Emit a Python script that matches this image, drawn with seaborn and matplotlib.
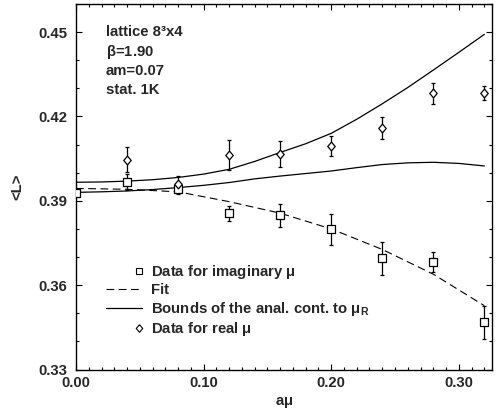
import numpy as np
import pandas as pd
import matplotlib
matplotlib.use("Agg")
import matplotlib.pyplot as plt
import seaborn as sns
from matplotlib.lines import Line2D
from matplotlib.legend_handler import HandlerLine2D
from matplotlib.ticker import MultipleLocator, FormatStrFormatter

# ---------------- data ----------------
mu_imag = [0.00, 0.04, 0.08, 0.12, 0.16, 0.20, 0.24, 0.28, 0.32]
L_imag = [0.3928, 0.3968, 0.3942, 0.3855, 0.3849, 0.3798, 0.3696, 0.3682, 0.3468]
err_imag = [0.0005, 0.0028, 0.0018, 0.0026, 0.0041, 0.0056, 0.0059, 0.0035, 0.0058]

mu_real = [0.04, 0.08, 0.12, 0.16, 0.20, 0.24, 0.28, 0.32]
L_real = [0.4046, 0.3961, 0.4063, 0.4065, 0.4094, 0.4159, 0.4282, 0.4284]
err_real = [0.0045, 0.0027, 0.0053, 0.0046, 0.0035, 0.0038, 0.0038, 0.0024]

mu_fit = [0.00, 0.04, 0.08, 0.12, 0.16, 0.20, 0.24, 0.28, 0.32]
L_fit = [0.3944, 0.3941, 0.3932, 0.3897, 0.3856, 0.3800, 0.3727, 0.3639, 0.3527]

mu_bound = [0.00, 0.02, 0.04, 0.06, 0.08, 0.10, 0.12, 0.14, 0.16, 0.18,
            0.20, 0.22, 0.24, 0.26, 0.28, 0.30, 0.32]
L_upper = [0.3966, 0.3967, 0.3970, 0.3975, 0.3983, 0.3995, 0.4012, 0.4040, 0.4072,
           0.4103, 0.4140, 0.4190, 0.4245, 0.4303, 0.4365, 0.4428, 0.4492]
L_lower = [0.3930, 0.3932, 0.3935, 0.3940, 0.3947, 0.3955, 0.3965, 0.3978, 0.3988,
           0.3997, 0.4006, 0.4018, 0.4029, 0.4035, 0.4037, 0.4033, 0.4024]

xticks = [0.00, 0.10, 0.20, 0.30]
yticks = [0.33, 0.36, 0.39, 0.42, 0.45]

info_lines = ["lattice 8\u00b3x4", r"$\beta$=1.90", "am=0.07", "stat. 1K"]
legend_labels = [r"Data for imaginary $\mu$", "Fit",
                 r"Bounds of the anal. cont. to $\mu_\mathrm{R}$", r"Data for real $\mu$"]

# ---------------- style ----------------
sns.set_theme(style="ticks")
plt.rcParams["font.family"] = ["Liberation Sans", "DejaVu Sans"]
plt.rcParams["font.weight"] = "bold"
plt.rcParams["mathtext.fontset"] = "custom"
plt.rcParams["mathtext.rm"] = "Liberation Sans"
plt.rcParams["mathtext.it"] = "Liberation Sans"
plt.rcParams["mathtext.bf"] = "Liberation Sans:bold"
FS = 10.7

fig = plt.figure(figsize=(4.98, 4.13), dpi=100)
ax = fig.add_axes([76 / 498, 1 - 369.5 / 413, 416 / 498, 365.5 / 413])

df_imag = pd.DataFrame({"mu": mu_imag, "L": L_imag})
df_real = pd.DataFrame({"mu": mu_real, "L": L_real})
df_fit = pd.DataFrame({"mu": mu_fit, "L": L_fit})
df_b = pd.DataFrame({"mu": mu_bound, "up": L_upper, "lo": L_lower})

# curves
sns.lineplot(data=df_b, x="mu", y="up", ax=ax, color="black", lw=0.9, sort=False)
sns.lineplot(data=df_b, x="mu", y="lo", ax=ax, color="black", lw=0.9, sort=False)
sns.lineplot(data=df_fit, x="mu", y="L", ax=ax, color="black", lw=0.8, sort=False)
ax.lines[-1].set_dashes((7, 4))

# error bars
ax.errorbar(mu_imag, L_imag, yerr=err_imag, fmt="none", ecolor="black",
            elinewidth=0.9, capsize=1.2, capthick=0.9, zorder=3)
ax.errorbar(mu_real, L_real, yerr=err_real, fmt="none", ecolor="black",
            elinewidth=0.9, capsize=1.2, capthick=0.9, zorder=3)

diamond = [(0, 1), (0.85, 0), (0, -1), (-0.85, 0), (0, 1)]
sns.scatterplot(data=df_imag, x="mu", y="L", ax=ax, marker="s", s=26,
                facecolor="white", edgecolor="black", linewidth=0.9, zorder=4)
sns.scatterplot(data=df_real, x="mu", y="L", ax=ax, marker=diamond, s=40,
                facecolor="white", edgecolor="black", linewidth=0.9, zorder=4)

# axes
ax.set_xlim(0, 0.326)
ax.set_ylim(0.33, 0.46)
ax.set_xticks(xticks)
ax.set_yticks(yticks)
ax.xaxis.set_minor_locator(MultipleLocator(0.01))
ax.yaxis.set_minor_locator(MultipleLocator(0.01))
ax.xaxis.set_major_formatter(FormatStrFormatter("%.2f"))
ax.yaxis.set_major_formatter(FormatStrFormatter("%.2f"))
ax.tick_params(which="both", direction="in", top=True, right=True, width=0.8, color="black")
ax.tick_params(which="major", length=4, labelsize=FS)
ax.tick_params(which="minor", length=2)
ax.tick_params(axis="x", which="major", pad=4.5)
ax.tick_params(axis="y", which="major", pad=6.5)
for lab in ax.get_xticklabels() + ax.get_yticklabels():
    lab.set_fontweight("bold")
for sp in ax.spines.values():
    sp.set_linewidth(1.0)
    sp.set_color("black")

ax.set_xlabel(r"a$\mu$", fontsize=FS, fontweight="bold", labelpad=3.5)
ax.set_ylabel("<L>", fontsize=FS, fontweight="bold", labelpad=10)

# info text
ys = [0.923, 0.869, 0.817, 0.765]
for t, y in zip(info_lines, ys):
    ax.text(0.072, y, t, transform=ax.transAxes, fontsize=FS, fontweight="bold",
            ha="left", va="center")

# legend (markers drawn at the right end of the handle, as in the reference)
class RightMarkerHandler(HandlerLine2D):
    def get_xdata(self, legend, xdescent, ydescent, width, height, fontsize):
        x = np.array([-xdescent + width - 2.5])
        return x, x

h_sq = Line2D([], [], linestyle="none", marker="s", markersize=4.3,
              markerfacecolor="white", markeredgecolor="black", markeredgewidth=0.8)
h_fit = Line2D([], [], color="black", lw=0.8, dashes=(7, 4))
h_bd = Line2D([], [], color="black", lw=0.9)
h_di = Line2D([], [], linestyle="none", marker=diamond, markersize=5.5,
              markerfacecolor="white", markeredgecolor="black", markeredgewidth=0.8)
hm = {h: RightMarkerHandler(numpoints=2) for h in (h_sq, h_di)}
leg = ax.legend([h_sq, h_fit, h_bd, h_di], legend_labels, loc="upper left",
                bbox_to_anchor=(0.072, 0.292), frameon=False,
                handlelength=2.45, handletextpad=0.6, labelspacing=0.17,
                borderpad=0, borderaxespad=0, handler_map=hm,
                prop={"weight": "bold", "size": FS})

fig.savefig("out.png", dpi=100)
